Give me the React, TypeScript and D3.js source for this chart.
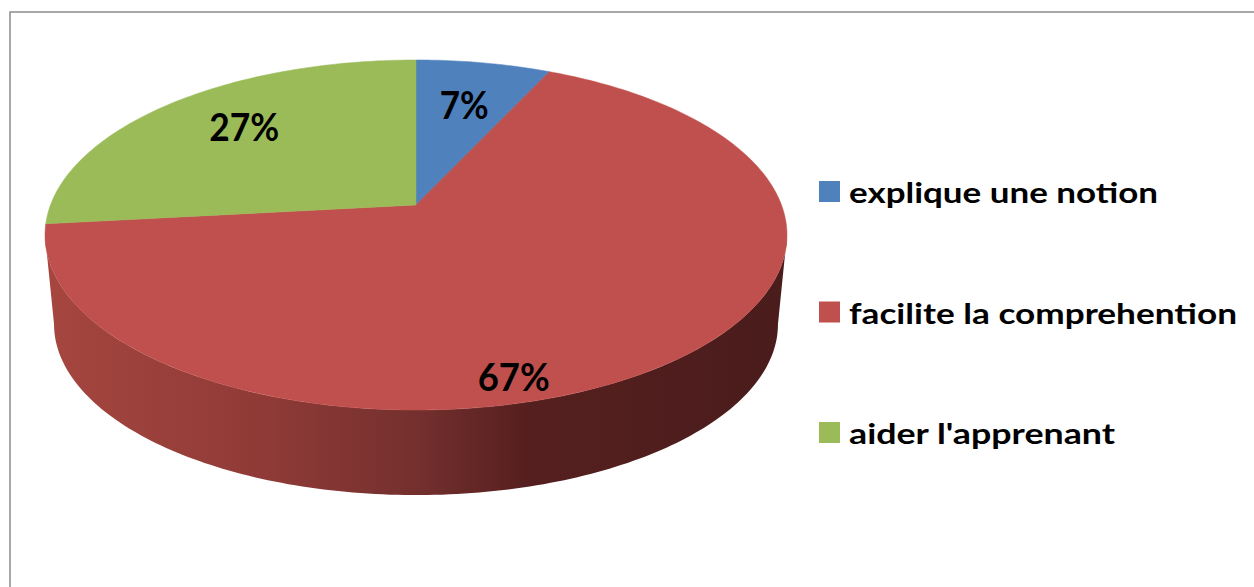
import React from "react";
import * as d3 from "d3";

const categories = ["explique une notion", "facilite la comprehention", "aider l'apprenant"];
const values = [7, 67, 27];
const colors = ["#4F81BD", "#C0504D", "#9BBB59"];

const W = 1254;
const H = 587;

// 3D perspective pie layout
const cx = 416;
const a = 0.1714; // perspective factor
const top = { R: 365.5, B: 169.9, Y0: 205 };
const bottom = { R: 356.6, B: 165.8, Y0: 295 };
const labelR = 0.68;
const labelTweak = [
  { dA: 0, r: 0.68 },
  { dA: 20.8, r: 0.89 },
  { dA: 2.9, r: 0.72 },
];

function proj(theta: number, r: number, lv: { R: number; B: number; Y0: number }): [number, number] {
  const u = r * Math.sin(theta);
  const v = -r * Math.cos(theta);
  const k = 1 / (1 - a * v);
  return [cx + lv.R * u * k, lv.Y0 + lv.B * v * k];
}

function sample(s: number, e: number, lv: any): [number, number][] {
  const n = Math.max(2, Math.ceil(((e - s) * 180) / Math.PI));
  return d3.range(n + 1).map((i) => proj(s + ((e - s) * i) / n, 1, lv));
}

export default function App() {
  const arcs = d3.pie<number>().sort(null).value((d) => d)(values);
  const line = d3.line();
  const visS = Math.acos(-a);
  const visE = 2 * Math.PI - Math.acos(-a);

  const sides = arcs
    .map((d, i) => {
      const s = Math.max(d.startAngle, visS);
      const e = Math.min(d.endAngle, visE);
      if (e <= s) return null;
      const topPts = sample(s, e, top);
      const botPts = sample(s, e, bottom).reverse();
      return { i, path: line([...topPts, ...botPts])! + "Z" };
    })
    .filter(Boolean) as { i: number; path: string }[];

  const faces = arcs.map((d, i) => {
    const pts = [proj(0, 0, top), ...sample(d.startAngle, d.endAngle, top)];
    return { i, path: line(pts)! + "Z" };
  });

  const labels = arcs.map((d, i) => {
    const t = labelTweak[i];
    const mid = (d.startAngle + d.endAngle) / 2 + (t.dA * Math.PI) / 180;
    const [x, y] = proj(mid, t.r ?? labelR, top);
    return { x, y, text: `${Math.round(values[i])}%` };
  });
  const labelWidths = [49, 72, 70];

  const legendY = d3.scalePoint<string>().domain(categories).range([181, 422]);
  const legendWidths = [309, 388, 266];

  return (
    <svg
      width={W}
      height={H}
      style={{ position: "absolute", left: 0, top: 0, background: "#fff" }}
      fontFamily="Lato, 'Open Sans', sans-serif"
    >
      <defs>
        <linearGradient id="sideGrad" gradientUnits="userSpaceOnUse" x1={44} y1={0} x2={787} y2={0}>
          <stop offset="0" stopColor="#a6463f" />
          <stop offset="0.3" stopColor="#8f3a37" />
          <stop offset="0.5" stopColor="#74302e" />
          <stop offset="0.65" stopColor="#561f1f" />
          <stop offset="1" stopColor="#4a1c1c" />
        </linearGradient>
      </defs>
      <rect x={10} y={12} width={1300} height={600} fill="#fff" stroke="#8c8c8c" strokeWidth={1.5} />
      {sides.map((s) => (
        <path key={"s" + s.i} d={s.path} fill={s.i === 1 ? "url(#sideGrad)" : colors[s.i]} />
      ))}
      {faces.map((f) => (
        <path key={"f" + f.i} d={f.path} fill={colors[f.i]} stroke={colors[f.i]} strokeWidth={0.5} />
      ))}
      {labels.map((l, i) => (
        <text
          key={"l" + i}
          x={l.x}
          y={l.y}
          textAnchor="middle"
          dominantBaseline="central"
          fontWeight={700}
          fontSize={39}
          fill="#000"
          textLength={labelWidths[i]}
          lengthAdjust="spacingAndGlyphs"
        >
          {l.text}
        </text>
      ))}
      {categories.map((c, i) => {
        const y = legendY(c)!;
        return (
          <g key={"lg" + i}>
            <rect x={819} y={y} width={21} height={21} fill={colors[i]} />
            <text
              x={849}
              y={y + 22}
              fontWeight={700}
              fontSize={29}
              fill="#000"
              textLength={legendWidths[i]}
              lengthAdjust="spacingAndGlyphs"
            >
              {c}
            </text>
          </g>
        );
      })}
    </svg>
  );
}
